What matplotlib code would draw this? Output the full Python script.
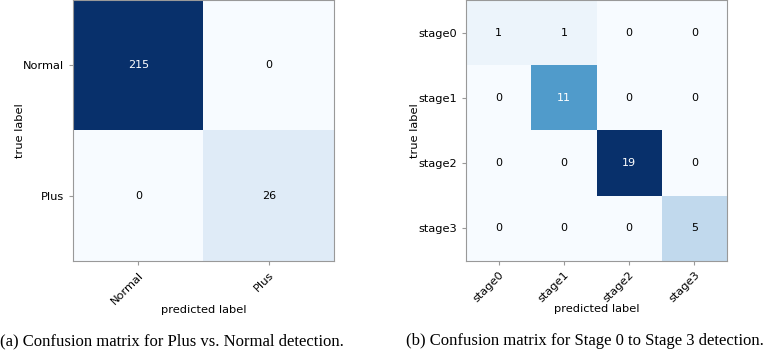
import numpy as np
import matplotlib
matplotlib.use("Agg")
import matplotlib.pyplot as plt

# ── Data ──────────────────────────────────────────────────────────────────────
plus_classes = ["Normal", "Plus"]
plus_cm = np.array([
    [215, 0],
    [0, 26],
])

stage_classes = ["stage0", "stage1", "stage2", "stage3"]
stage_cm = np.array([
    [1, 1, 0, 0],
    [0, 11, 0, 0],
    [0, 0, 19, 0],
    [0, 0, 0, 5],
])

captions = [
    "(a) Confusion matrix for Plus vs. Normal detection.",
    "(b) Confusion matrix for Stage 0 to Stage 3 detection.",
]

SPINE_COLOR = "#999999"
LABEL_SIZE = 8.2


def plot_cm(ax, cm, classes):
    ax.imshow(cm, cmap="Blues", interpolation="nearest", aspect="auto")
    ticks = np.arange(len(classes))
    ax.set_xticks(ticks)
    ax.set_yticks(ticks)
    ax.set_xticklabels(classes, rotation=45, ha="right",
                       rotation_mode="anchor", fontsize=LABEL_SIZE)
    ax.set_yticklabels(classes, fontsize=LABEL_SIZE)
    thresh = cm.max() / 2.0
    for i in range(cm.shape[0]):
        for j in range(cm.shape[1]):
            ax.text(j, i, str(cm[i, j]), ha="center", va="center", fontsize=8,
                    color="white" if cm[i, j] > thresh else "black")
    ax.set_xlabel("predicted label", fontsize=LABEL_SIZE, labelpad=-0.5)
    ax.set_ylabel("true label", fontsize=LABEL_SIZE, labelpad=-1.5)
    for sp in ax.spines.values():
        sp.set_color(SPINE_COLOR)
    ax.tick_params(color=SPINE_COLOR, length=3)


fig = plt.figure(figsize=(7.65, 3.52), dpi=100)

ax_a = fig.add_axes([73 / 765, 91 / 352, 261 / 765, 261 / 352])
plot_cm(ax_a, plus_cm, plus_classes)

ax_b = fig.add_axes([466 / 765, 91 / 352, 261 / 765, 261 / 352])
plot_cm(ax_b, stage_cm, stage_classes)

fig.text(172 / 765, 1 - 341 / 352, captions[0], ha="center", va="center",
         fontsize=12, family="Liberation Serif")
fig.text(585 / 765, 1 - 341 / 352, captions[1], ha="center", va="center",
         fontsize=12, family="Liberation Serif")

fig.savefig("out.png", dpi=100)
